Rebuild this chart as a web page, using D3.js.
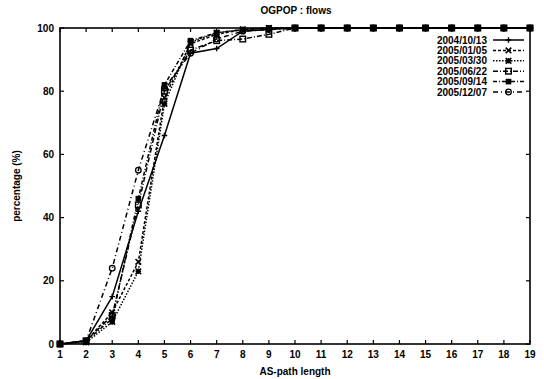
<!DOCTYPE html>
<html>
<head>
<meta charset="utf-8">
<script src="https://cdn.jsdelivr.net/npm/d3@7"></script>
<style>
  body { margin: 0; background: #fff; }
  text { font-family: "Liberation Sans", Arial, sans-serif; fill: #000; }
</style>
</head>
<body>
<div id="chart"></div>
<script>
// path lengths on the x axis
const pathLengths = d3.range(1, 20);
const seriesNames = ["2004/10/13", "2005/01/05", "2005/03/30", "2005/06/22", "2005/09/14", "2005/12/07"];
// cumulative percentage per snapshot, values for lengths 1..19
const s20041013 = [0, 1, 15, 42, 66, 92, 93.5, 99, 99.5, 100, 100, 100, 100, 100, 100, 100, 100, 100, 100];
const s20050105 = [0, 1, 10, 26, 78, 95, 98, 99.5, 100, 100, 100, 100, 100, 100, 100, 100, 100, 100, 100];
const s20050330 = [0, 0.5, 7, 23, 76, 95.5, 98.5, 99.5, 100, 100, 100, 100, 100, 100, 100, 100, 100, 100, 100];
const s20050622 = [0, 1, 9, 44, 80, 93, 96, 96.5, 98, 100, 100, 100, 100, 100, 100, 100, 100, 100, 100];
const s20050914 = [0, 1, 8, 46, 82, 96, 98.5, 99.5, 100, 100, 100, 100, 100, 100, 100, 100, 100, 100, 100];
const s20051207 = [0, 1, 24, 55, 81, 92, 96.5, 99, 99.5, 100, 100, 100, 100, 100, 100, 100, 100, 100, 100];
const yTicks = [0, 20, 40, 60, 80, 100];

const allSeries = [s20041013, s20050105, s20050330, s20050622, s20050914, s20051207];
// gnuplot-like line types and point types
const dashes = [null, "3,2", "1.5,1.5", "5,2,1,2", "4,2,1,2", "5,3,1,3"];
const marks = ["plus", "cross", "star", "osquare", "fsquare", "ocircle"];

const W = 544, H = 379;
const margin = {top: 28, right: 14, bottom: 35, left: 60};

const svg = d3.select("#chart").append("svg")
    .attr("width", W)
    .attr("height", H);

const x = d3.scaleLinear().domain([1, 19]).range([margin.left, W - margin.right]);
const y = d3.scaleLinear().domain([0, 100]).range([H - margin.bottom, margin.top]);

// ticks on all four sides (mirrored), pointing inward
const g = svg.append("g");
pathLengths.forEach(v => {
  g.append("line").attr("x1", x(v)).attr("x2", x(v)).attr("y1", y(0)).attr("y2", y(0) - 4).attr("stroke", "#000").attr("stroke-width", 1.2);
  g.append("line").attr("x1", x(v)).attr("x2", x(v)).attr("y1", y(100)).attr("y2", y(100) + 4).attr("stroke", "#000").attr("stroke-width", 1.2);
});
yTicks.forEach(v => {
  g.append("line").attr("x1", x(1)).attr("x2", x(1) + 4).attr("y1", y(v)).attr("y2", y(v)).attr("stroke", "#000").attr("stroke-width", 1.2);
  g.append("line").attr("x1", x(19)).attr("x2", x(19) - 4).attr("y1", y(v)).attr("y2", y(v)).attr("stroke", "#000").attr("stroke-width", 1.2);
});

// tick labels
svg.append("g").selectAll("text")
  .data(pathLengths)
  .join("text")
    .attr("x", d => x(d))
    .attr("y", y(0) + 14)
    .attr("text-anchor", "middle")
    .attr("font-size", "10px")
    .attr("font-weight", "bold")
    .text(d => d);

svg.append("g").selectAll("text")
  .data(yTicks)
  .join("text")
    .attr("x", x(1) - 6)
    .attr("y", d => y(d) + 3.5)
    .attr("text-anchor", "end")
    .attr("font-size", "10px")
    .attr("font-weight", "bold")
    .text(d => d);

// frame
svg.append("rect")
  .attr("x", x(1)).attr("y", y(100))
  .attr("width", x(19) - x(1)).attr("height", y(0) - y(100))
  .attr("fill", "none").attr("stroke", "#000").attr("stroke-width", 1.6);

// titles
svg.append("text").attr("x", 296).attr("y", 14).attr("text-anchor", "middle")
  .attr("font-size", "10px").attr("font-weight", "bold").text("OGPOP : flows");
svg.append("text").attr("x", (x(1) + x(19)) / 2).attr("y", 375).attr("text-anchor", "middle")
  .attr("font-size", "10px").attr("font-weight", "bold").text("AS-path length");
svg.append("text")
  .attr("transform", `translate(20,${(y(0) + y(100)) / 2}) rotate(-90)`)
  .attr("text-anchor", "middle")
  .attr("font-size", "10px").attr("font-weight", "bold").text("percentage (%)");

// marker drawing
function drawMark(sel, type, cx, cy) {
  const r = 2.8;
  if (type === "plus") {
    sel.append("path").attr("d", `M${cx - r},${cy}H${cx + r}M${cx},${cy - r}V${cy + r}`).attr("stroke", "#000").attr("stroke-width", 1.4);
  } else if (type === "cross") {
    sel.append("path").attr("d", `M${cx - r},${cy - r}L${cx + r},${cy + r}M${cx - r},${cy + r}L${cx + r},${cy - r}`).attr("stroke", "#000").attr("stroke-width", 1.6);
  } else if (type === "star") {
    sel.append("path").attr("d", `M${cx - r},${cy}H${cx + r}M${cx},${cy - r}V${cy + r}M${cx - r},${cy - r}L${cx + r},${cy + r}M${cx - r},${cy + r}L${cx + r},${cy - r}`).attr("stroke", "#000").attr("stroke-width", 1.6);
  } else if (type === "osquare") {
    sel.append("rect").attr("x", cx - r).attr("y", cy - r).attr("width", 2 * r).attr("height", 2 * r).attr("fill", "none").attr("stroke", "#000").attr("stroke-width", 1.4);
  } else if (type === "fsquare") {
    sel.append("rect").attr("x", cx - r).attr("y", cy - r).attr("width", 2 * r).attr("height", 2 * r).attr("fill", "#000");
  } else {
    sel.append("circle").attr("cx", cx).attr("cy", cy).attr("r", r).attr("fill", "none").attr("stroke", "#000").attr("stroke-width", 1.3);
  }
}

const line = d3.line().x((d, i) => x(pathLengths[i])).y(d => y(d));

const plot = svg.append("g");
allSeries.forEach((vals, k) => {
  plot.append("path")
    .datum(vals)
    .attr("d", line)
    .attr("fill", "none")
    .attr("stroke", "#000")
    .attr("stroke-width", 1.5)
    .attr("stroke-dasharray", dashes[k]);
  const mg = plot.append("g");
  vals.forEach((v, i) => drawMark(mg, marks[k], x(pathLengths[i]), y(v)));
});

// legend
const leg = svg.append("g");
seriesNames.forEach((name, k) => {
  const ly = 40 + k * 10.4;
  leg.append("text").attr("x", 487).attr("y", ly + 3.5).attr("text-anchor", "end")
    .attr("font-size", "10px").attr("font-weight", "bold").text(name);
  leg.append("line").attr("x1", 493).attr("x2", 524).attr("y1", ly).attr("y2", ly)
    .attr("stroke", "#000").attr("stroke-width", 1.5).attr("stroke-dasharray", dashes[k]);
  drawMark(leg, marks[k], 508.5, ly);
});
</script>
</body>
</html>
